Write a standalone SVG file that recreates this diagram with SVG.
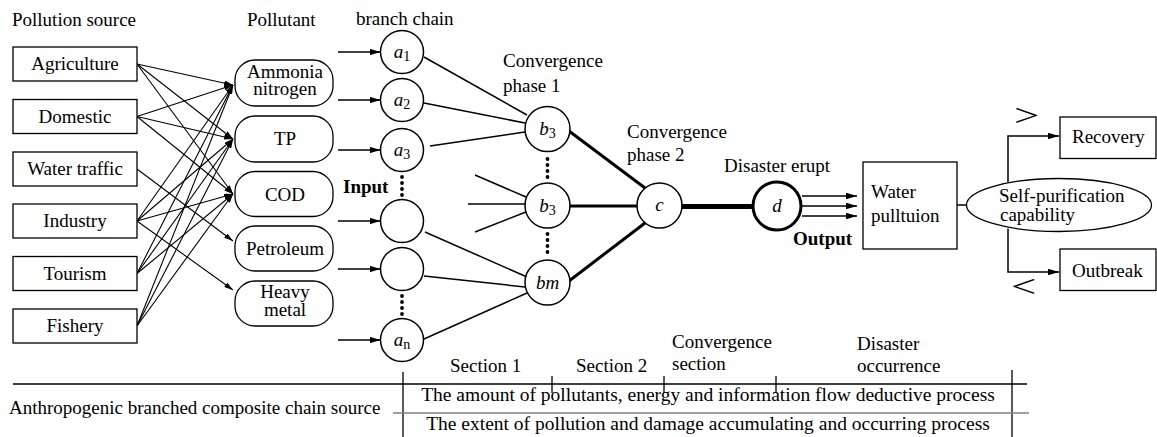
<svg xmlns="http://www.w3.org/2000/svg" width="1157" height="437" viewBox="0 0 1157 437">
<style>
.t{font-family:"Liberation Serif","Times New Roman",serif;font-size:19px;fill:#000}
.it{font-style:italic}
.bd{font-weight:bold}
.sub{font-size:14px;font-style:normal}
.big{font-size:32px}
.lg{font-size:19.5px}
.box{fill:#fff;stroke:#000;stroke-width:1.3}
.cir{fill:#fff;stroke:#000;stroke-width:1.5}
.ln{stroke:#000;stroke-width:1.1;fill:none}
.ln2{stroke:#000;stroke-width:1.5;fill:none}
.thk{stroke:#000;stroke-width:3;fill:none}
.rule{stroke:#000;stroke-width:1.3}
.dot{fill:#000}
</style>
<defs>
<marker id="ah" viewBox="0 0 10 6" refX="10" refY="3" markerWidth="9" markerHeight="5.4" markerUnits="userSpaceOnUse" orient="auto"><path d="M0,0 L10,3 L0,6 z"/></marker>
<marker id="ah2" viewBox="0 0 10 6" refX="10" refY="3" markerWidth="11" markerHeight="6.6" markerUnits="userSpaceOnUse" orient="auto"><path d="M0,0 L10,3 L0,6 z"/></marker>
</defs>

<!-- headings -->
<text class="t" x="12" y="26">Pollution source</text>
<text class="t" x="247" y="26">Pollutant</text>
<text class="t" x="356" y="25">branch chain</text>
<text class="t" x="503" y="67">Convergence</text>
<text class="t" x="503" y="92">phase 1</text>
<text class="t" x="627" y="138">Convergence</text>
<text class="t" x="627" y="161">phase 2</text>
<text class="t" x="724" y="172">Disaster erupt</text>
<text class="t bd" x="343" y="193">Input</text>
<text class="t bd" x="793" y="245">Output</text>

<!-- connectors -->
<g id="connectors">
  <g marker-end="url(#ah)" class="ln">
    <line x1="137" y1="64" x2="233" y2="85"/>
    <line x1="137" y1="64" x2="233" y2="139"/>
    <line x1="137" y1="64" x2="233" y2="194"/>
    <line x1="137" y1="116.5" x2="233" y2="85"/>
    <line x1="137" y1="116.5" x2="233" y2="139"/>
    <line x1="137" y1="116.5" x2="233" y2="194"/>
    <line x1="137" y1="169" x2="233" y2="241"/>
    <line x1="137" y1="221" x2="233" y2="85"/>
    <line x1="137" y1="221" x2="233" y2="139"/>
    <line x1="137" y1="221" x2="233" y2="194"/>
    <line x1="137" y1="221" x2="233" y2="290"/>
    <line x1="137" y1="273.5" x2="233" y2="85"/>
    <line x1="137" y1="273.5" x2="233" y2="139"/>
    <line x1="137" y1="273.5" x2="233" y2="194"/>
    <line x1="137" y1="326" x2="233" y2="85"/>
    <line x1="137" y1="326" x2="233" y2="139"/>
    <line x1="137" y1="326" x2="233" y2="194"/>
  </g>
  <g marker-end="url(#ah2)" class="ln2">
    <line x1="338" y1="52" x2="380.5" y2="52"/>
    <line x1="338" y1="100" x2="380.5" y2="100"/>
    <line x1="338" y1="150" x2="380.5" y2="150"/>
    <line x1="338" y1="221" x2="380.5" y2="221"/>
    <line x1="338" y1="269" x2="380.5" y2="269"/>
    <line x1="338" y1="340" x2="380.5" y2="340"/>
    <line x1="802" y1="196" x2="857" y2="196"/>
    <line x1="802" y1="206" x2="857" y2="206"/>
    <line x1="802" y1="216" x2="857" y2="216"/>
    <polyline points="1008,182 1008,136 1059,136"/>
    <polyline points="1008,228.5 1008,272 1059,272"/>
  </g>
  <g class="ln2">
    <line x1="424" y1="57" x2="527" y2="115"/>
    <line x1="424" y1="103" x2="525" y2="123"/>
    <line x1="430" y1="146" x2="525" y2="132"/>
    <line x1="475" y1="175" x2="526" y2="197"/>
    <line x1="468" y1="204" x2="525" y2="204"/>
    <line x1="475" y1="232" x2="526" y2="212"/>
    <line x1="425" y1="232" x2="527" y2="277"/>
    <line x1="424" y1="276" x2="525" y2="287"/>
    <line x1="424" y1="339" x2="527" y2="293"/>
    <line x1="957" y1="205" x2="966" y2="205"/>
  </g>
  <g class="thk">
    <line x1="569" y1="131" x2="645" y2="188"/>
    <line x1="570" y1="206" x2="637" y2="206"/>
    <line x1="569" y1="281" x2="645" y2="223"/>
  </g>
  <line x1="682" y1="206.5" x2="753" y2="206.5" stroke="#000" stroke-width="5"/>
</g>

<!-- sources -->
<g id="src-agriculture"><rect class="box" x="13" y="47" width="124" height="34"/><text class="t" x="75" y="70" text-anchor="middle">Agriculture</text></g>
<g id="src-domestic"><rect class="box" x="13" y="99.5" width="124" height="34"/><text class="t" x="75" y="122.5" text-anchor="middle">Domestic</text></g>
<g id="src-water-traffic"><rect class="box" x="13" y="152" width="124" height="34"/><text class="t" x="75" y="175" text-anchor="middle">Water traffic</text></g>
<g id="src-industry"><rect class="box" x="13" y="204" width="124" height="34"/><text class="t" x="75" y="227" text-anchor="middle">Industry</text></g>
<g id="src-tourism"><rect class="box" x="13" y="256.5" width="124" height="34"/><text class="t" x="75" y="279.5" text-anchor="middle">Tourism</text></g>
<g id="src-fishery"><rect class="box" x="13" y="309" width="124" height="34"/><text class="t" x="75" y="332" text-anchor="middle">Fishery</text></g>

<!-- pollutants -->
<g id="pol-ammonia"><rect class="box" x="235" y="60" width="98" height="46" rx="20"/><text class="t" x="285" y="78" text-anchor="middle">Ammonia</text><text class="t" x="285" y="95" text-anchor="middle">nitrogen</text></g>
<g id="pol-tp"><rect class="box" x="235" y="116" width="98" height="46" rx="20"/><text class="t" x="285" y="145" text-anchor="middle">TP</text></g>
<g id="pol-cod"><rect class="box" x="235" y="171.5" width="98" height="45" rx="20"/><text class="t" x="285" y="201" text-anchor="middle">COD</text></g>
<g id="pol-petroleum"><rect class="box" x="235" y="226" width="98" height="45" rx="20"/><text class="t" x="285" y="255" text-anchor="middle">Petroleum</text></g>
<g id="pol-heavy-metal"><rect class="box" x="235" y="281" width="98" height="45" rx="20"/><text class="t" x="285" y="298" text-anchor="middle">Heavy</text><text class="t" x="285" y="316" text-anchor="middle">metal</text></g>

<!-- branch chain -->
<g id="a1"><circle class="cir" cx="402" cy="52" r="21.5"/><text class="t" x="402" y="58" text-anchor="middle"><tspan class="it">a</tspan><tspan class="sub" dy="3">1</tspan></text></g>
<g id="a2"><circle class="cir" cx="402" cy="100" r="21.5"/><text class="t" x="402" y="106" text-anchor="middle"><tspan class="it">a</tspan><tspan class="sub" dy="3">2</tspan></text></g>
<g id="a3"><circle class="cir" cx="402" cy="150" r="21.5"/><text class="t" x="402" y="156" text-anchor="middle"><tspan class="it">a</tspan><tspan class="sub" dy="3">3</tspan></text></g>
<g id="a4"><circle class="cir" cx="402" cy="221" r="21.5"/></g>
<g id="a5"><circle class="cir" cx="402" cy="269" r="21.5"/></g>
<g id="an"><circle class="cir" cx="402" cy="340" r="21.5"/><text class="t" x="402" y="346" text-anchor="middle"><tspan class="it">a</tspan><tspan class="sub" dy="3">n</tspan></text></g>
<g id="dots-a">
  <circle class="dot" cx="402" cy="177" r="1.9"/><circle class="dot" cx="402" cy="183" r="1.9"/><circle class="dot" cx="402" cy="189" r="1.9"/><circle class="dot" cx="402" cy="195" r="1.9"/>
  <circle class="dot" cx="402" cy="296" r="1.9"/><circle class="dot" cx="402" cy="302" r="1.9"/><circle class="dot" cx="402" cy="308" r="1.9"/><circle class="dot" cx="402" cy="314" r="1.9"/>
</g>

<!-- convergence phase 1 -->
<g id="b3-top"><circle class="cir" cx="547.5" cy="129" r="22.5"/><text class="t" x="547.5" y="135" text-anchor="middle"><tspan class="it">b</tspan><tspan class="sub" dy="3">3</tspan></text></g>
<g id="b3-mid"><circle class="cir" cx="547.5" cy="205.5" r="22.5"/><text class="t" x="547.5" y="211.5" text-anchor="middle"><tspan class="it">b</tspan><tspan class="sub" dy="3">3</tspan></text></g>
<g id="bm"><circle class="cir" cx="547.5" cy="282.5" r="22.5"/><text class="t it" x="547.5" y="289" text-anchor="middle">bm</text></g>
<g id="dots-b">
  <circle class="dot" cx="547.5" cy="159" r="1.9"/><circle class="dot" cx="547.5" cy="165" r="1.9"/><circle class="dot" cx="547.5" cy="171" r="1.9"/><circle class="dot" cx="547.5" cy="177" r="1.9"/>
  <circle class="dot" cx="547.5" cy="234" r="1.9"/><circle class="dot" cx="547.5" cy="240" r="1.9"/><circle class="dot" cx="547.5" cy="246" r="1.9"/><circle class="dot" cx="547.5" cy="252" r="1.9"/>
</g>

<!-- convergence phase 2 -->
<g id="c"><circle class="cir" cx="659.5" cy="205.5" r="22.5"/><text class="t it" x="659.5" y="211" text-anchor="middle">c</text></g>
<g id="d"><circle cx="777" cy="206" r="24" fill="#fff" stroke="#000" stroke-width="3"/><text class="t it" x="777" y="212" text-anchor="middle">d</text></g>

<!-- outcome -->
<g id="water-pollution"><rect class="box" x="863" y="162" width="94" height="87"/><text class="t" x="871" y="198">Water</text><text class="t" x="871" y="222">pulltuion</text></g>
<g id="self-purification"><ellipse class="box" cx="1059" cy="205" rx="92.5" ry="26.5"/><text class="t" x="999" y="202">Self-purification</text><text class="t" x="1000" y="221">capability</text></g>
<g id="recovery"><rect class="box" x="1060" y="117" width="96" height="41.5"/><text class="t" x="1072" y="143">Recovery</text></g>
<g id="outbreak"><rect class="box" x="1060" y="249" width="96" height="41.5"/><text class="t" x="1072" y="277">Outbreak</text></g>
<text class="t big" transform="translate(1014,126) scale(1.4,1)">&gt;</text>
<text class="t big" transform="translate(1011,297) scale(1.4,1)">&lt;</text>

<!-- bottom table -->
<g id="timeline">
  <line class="rule" x1="13" y1="384" x2="1027" y2="384"/>
  <line class="rule" x1="403" y1="372" x2="403" y2="437"/>
  <line class="rule" x1="1012" y1="370" x2="1012" y2="437"/>
  <line class="rule" x1="552" y1="376" x2="552" y2="393"/>
  <line class="rule" x1="664" y1="376" x2="664" y2="393"/>
  <line class="rule" x1="776" y1="376" x2="776" y2="393"/>
  <line x1="393" y1="413" x2="1029" y2="413" stroke="#808080" stroke-width="1.5"/>
  <text class="t" x="450" y="372">Section 1</text>
  <text class="t" x="576" y="372">Section 2</text>
  <text class="t" x="672" y="348">Convergence</text>
  <text class="t" x="672" y="370">section</text>
  <text class="t" x="857" y="350">Disaster</text>
  <text class="t" x="857" y="372">occurrence</text>
  <text class="t lg" x="708" y="401" text-anchor="middle">The amount of pollutants, energy and information flow deductive process</text>
  <text class="t" x="9" y="414">Anthropogenic branched composite chain source</text>
  <text class="t lg" x="708" y="430" text-anchor="middle">The extent of pollution and damage accumulating and occurring process</text>
</g>
</svg>
